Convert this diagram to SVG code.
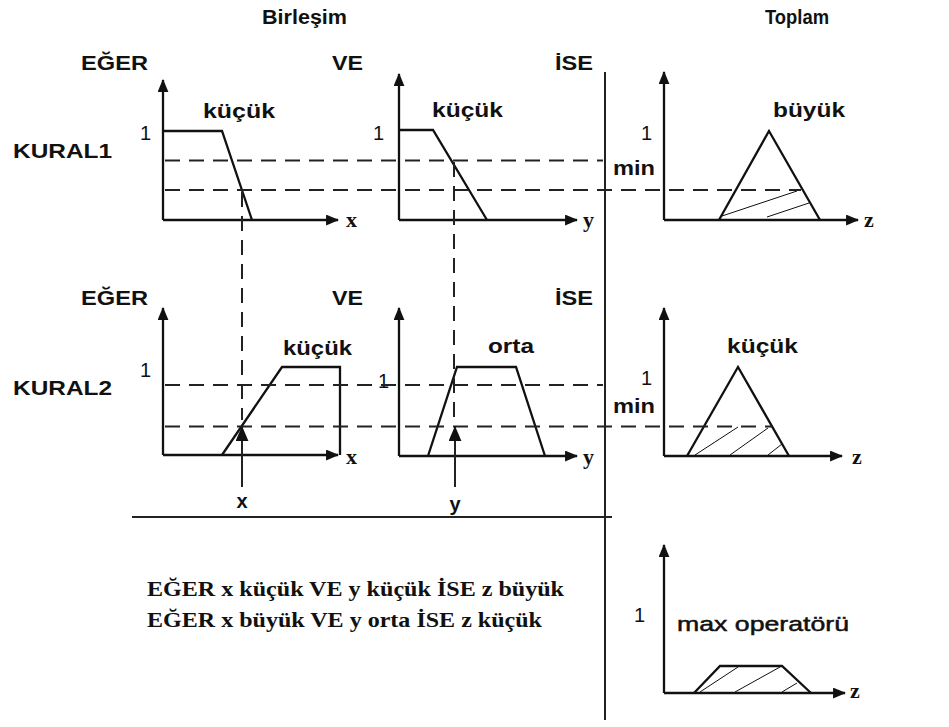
<svg xmlns="http://www.w3.org/2000/svg" width="949" height="727" viewBox="0 0 949 727">
  <style>
    .lbl { font-family: "Liberation Sans", Arial, sans-serif; font-weight: bold; font-size: 20px; fill: #111; }
    .num { font-family: "Liberation Sans", Arial, sans-serif; font-size: 20px; fill: #111; }
    .ax-lbl { font-family: "Liberation Serif", "Times New Roman", serif; font-weight: bold; font-size: 22px; fill: #111; }
    .rule { font-family: "Liberation Serif", "Times New Roman", serif; font-weight: bold; font-size: 21px; fill: #111; }
    .axis { stroke: #111; stroke-width: 2.3; fill: none; marker-end: url(#ah); }
    .mf { stroke: #111; stroke-width: 2.3; fill: none; stroke-linejoin: miter; }
    .hatch { stroke: #111; stroke-width: 1; fill: none; }
    .dash { stroke: #222; stroke-width: 2; fill: none; stroke-dasharray: 15 9; }
    .solid { stroke: #222; stroke-width: 2; fill: none; }
  </style>
  <defs>
    <marker id="ah" viewBox="0 0 12 10" refX="11" refY="5" markerWidth="13" markerHeight="11" markerUnits="userSpaceOnUse" orient="auto">
      <path d="M0,0 L12,5 L0,10 z" fill="#111"/>
    </marker>
    <marker id="ahBig" viewBox="0 0 14 12" refX="13" refY="6" markerWidth="15" markerHeight="13" markerUnits="userSpaceOnUse" orient="auto">
      <path d="M0,0 L14,6 L0,12 z" fill="#111"/>
    </marker>
  </defs>

  <!-- column titles -->
  <g id="titles">
    <text class="lbl" x="262" y="24" textLength="85" lengthAdjust="spacingAndGlyphs">Birleşim</text>
    <text class="lbl" x="797" y="24" text-anchor="middle" textLength="64" lengthAdjust="spacingAndGlyphs">Toplam</text>
  </g>

  <!-- row and column headings -->
  <g id="headings">
    <text class="lbl" x="148" y="70" text-anchor="end" textLength="67" lengthAdjust="spacingAndGlyphs">EĞER</text>
    <text class="lbl" x="363" y="70" text-anchor="end" textLength="31" lengthAdjust="spacingAndGlyphs">VE</text>
    <text class="lbl" x="593" y="70" text-anchor="end" textLength="38" lengthAdjust="spacingAndGlyphs">İSE</text>
    <text class="lbl" x="13" y="158" textLength="99" lengthAdjust="spacingAndGlyphs">KURAL1</text>
    <text class="lbl" x="148" y="305" text-anchor="end" textLength="67" lengthAdjust="spacingAndGlyphs">EĞER</text>
    <text class="lbl" x="363" y="305" text-anchor="end" textLength="31" lengthAdjust="spacingAndGlyphs">VE</text>
    <text class="lbl" x="593" y="305" text-anchor="end" textLength="38" lengthAdjust="spacingAndGlyphs">İSE</text>
    <text class="lbl" x="13" y="395" textLength="99" lengthAdjust="spacingAndGlyphs">KURAL2</text>
  </g>

  <!-- frame lines -->
  <g id="frame">
    <line class="solid" x1="605" y1="72" x2="605" y2="720"/>
    <line class="solid" x1="132" y1="517" x2="612" y2="517"/>
  </g>

  <!-- rule 1, x : küçük -->
  <g id="r1-x">
    <path class="axis" d="M163,220 V80"/>
    <path class="axis" d="M163,220 H338"/>
    <path class="mf" d="M163,131 H222 L252,220"/>
    <text class="num" x="151" y="140" text-anchor="end">1</text>
    <text class="lbl" x="203" y="118" textLength="72" lengthAdjust="spacingAndGlyphs">küçük</text>
    <text class="ax-lbl" x="346" y="227">x</text>
  </g>

  <!-- rule 1, y : küçük -->
  <g id="r1-y">
    <path class="axis" d="M399,220 V74"/>
    <path class="axis" d="M399,220 H577"/>
    <path class="mf" d="M399,130 H433 L487,220"/>
    <text class="num" x="384" y="140" text-anchor="end">1</text>
    <text class="lbl" x="432" y="117" textLength="71" lengthAdjust="spacingAndGlyphs">küçük</text>
    <text class="ax-lbl" x="583" y="227">y</text>
  </g>

  <!-- rule 1, z : büyük (clipped) -->
  <g id="r1-z">
    <path class="axis" d="M664,220 V72"/>
    <path class="axis" d="M664,220 H858"/>
    <path class="mf" d="M719,220 L769,131 L820,220"/>
    <path class="hatch" d="M722,216 L797,191 M767,217 L809,203"/>
    <text class="num" x="652" y="140" text-anchor="end">1</text>
    <text class="lbl" x="613" y="175" textLength="42" lengthAdjust="spacingAndGlyphs">min</text>
    <text class="lbl" x="773" y="117" textLength="72" lengthAdjust="spacingAndGlyphs">büyük</text>
    <text class="ax-lbl" x="864" y="227">z</text>
  </g>

  <!-- rule 2, x : küçük -->
  <g id="r2-x">
    <path class="axis" d="M163,455 V308"/>
    <path class="axis" d="M163,455 H338"/>
    <path class="mf" d="M222,455 L282,367 H340 V455"/>
    <text class="num" x="151" y="377" text-anchor="end">1</text>
    <text class="lbl" x="283" y="355" textLength="69" lengthAdjust="spacingAndGlyphs">küçük</text>
    <text class="ax-lbl" x="346" y="464">x</text>
  </g>

  <!-- rule 2, y : orta -->
  <g id="r2-y">
    <path class="axis" d="M399,456 V308"/>
    <path class="axis" d="M399,456 H577"/>
    <path class="mf" d="M428,456 L457,367 H516 L545,456"/>
    <text class="num" x="389" y="388" text-anchor="end">1</text>
    <text class="lbl" x="488" y="353" textLength="46" lengthAdjust="spacingAndGlyphs">orta</text>
    <text class="ax-lbl" x="583" y="464">y</text>
  </g>

  <!-- rule 2, z : küçük (clipped) -->
  <g id="r2-z">
    <path class="axis" d="M664,456 V308"/>
    <path class="axis" d="M664,456 H842"/>
    <path class="mf" d="M687,456 L738,367 L789,456"/>
    <path class="hatch" d="M695,455 L738,427 M730,455 L768,428 M768,455 L782,444"/>
    <text class="num" x="652" y="385" text-anchor="end">1</text>
    <text class="lbl" x="613" y="413" textLength="42" lengthAdjust="spacingAndGlyphs">min</text>
    <text class="lbl" x="727" y="353" textLength="71" lengthAdjust="spacingAndGlyphs">küçük</text>
    <text class="ax-lbl" x="852" y="464">z</text>
  </g>

  <!-- aggregated output -->
  <g id="max-out">
    <path class="axis" d="M664,693 V545"/>
    <path class="axis" d="M664,693 H845"/>
    <path class="mf" d="M694,693 L720,666 H782 L811,693"/>
    <path class="hatch" d="M700,692 L738,667 M735,692 L780,667 M782,692 L797,683"/>
    <text class="num" x="645" y="622" text-anchor="end">1</text>
    <text class="num" x="677" y="631" textLength="172" lengthAdjust="spacingAndGlyphs" style="font-size:21px; stroke:#111; stroke-width:0.5">max operatörü</text>
    <text class="ax-lbl" x="850" y="698">z</text>
  </g>

  <!-- crisp inputs -->
  <g id="inputs">
    <text class="lbl" x="242" y="508" text-anchor="middle">x</text>
    <text class="lbl" x="455" y="511" text-anchor="middle">y</text>
  </g>

  <!-- rule text -->
  <g id="rules">
    <text class="rule" x="147" y="596" textLength="417" lengthAdjust="spacingAndGlyphs">EĞER x küçük VE y küçük İSE z büyük</text>
    <text class="rule" x="147" y="627" textLength="395" lengthAdjust="spacingAndGlyphs">EĞER x büyük VE y orta İSE z küçük</text>
  </g>

  <!-- connectors: membership cuts and input projections -->
  <g id="connectors">
    <path class="dash" d="M165,160.5 H603"/>
    <path class="dash" d="M165,190 H801"/>
    <path class="dash" d="M165,385 H603"/>
    <path class="dash" d="M165,426.5 H772"/>
    <path class="dash" d="M242,192 V420"/>
    <path class="dash" d="M454,162 V420"/>
    <path class="solid" d="M242,487 V427" marker-end="url(#ahBig)"/>
    <path class="solid" d="M455,487 V427" marker-end="url(#ahBig)"/>
  </g>
</svg>
